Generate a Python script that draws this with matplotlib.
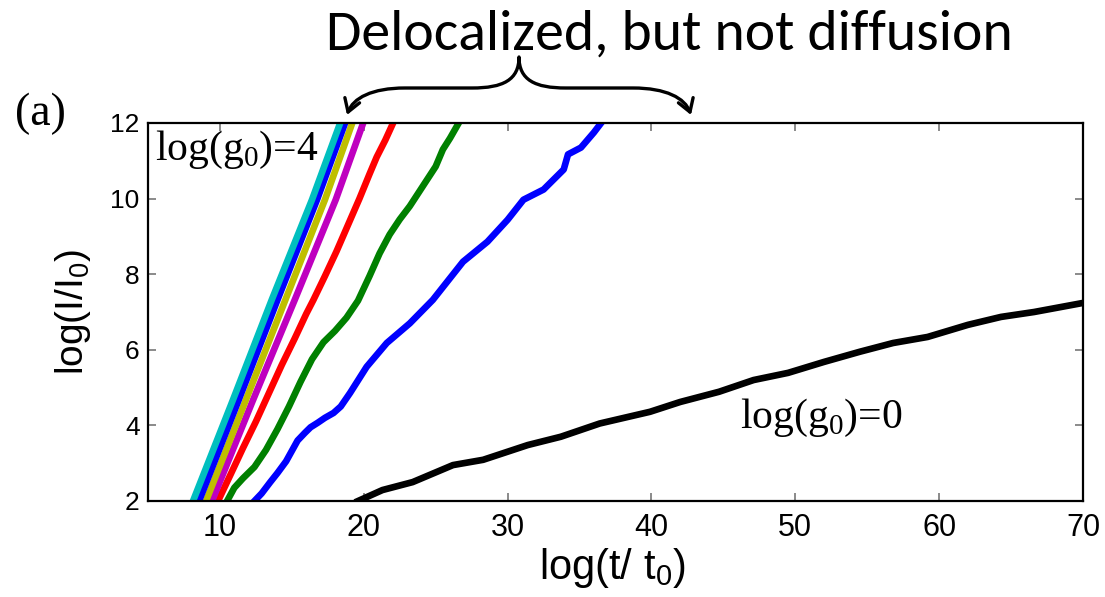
import matplotlib
matplotlib.use("Agg")
import matplotlib.pyplot as plt
from matplotlib.path import Path
from matplotlib.patches import FancyArrowPatch
from matplotlib.transforms import Affine2D

# ---- data: log(t/t0) vs log(I/I0) for different log(g0) ----
t_cyan = [8.13, 10.9, 13.6, 16.4, 18.36]
I_cyan = [2.0, 4.67, 7.32, 9.97, 12.0]

t_blue = [8.55, 11.3, 14.0, 16.75, 18.7]
I_blue = [2.0, 4.67, 7.32, 9.97, 12.0]

t_yellow = [9.03, 11.8, 14.55, 17.3, 19.2]
I_yellow = [2.0, 4.67, 7.32, 9.97, 12.0]

t_magenta = [9.45, 12.3, 15.2, 18.05, 19.96]
I_magenta = [2.0, 4.67, 7.32, 9.97, 12.0]

t_red = [9.87, 10.8, 11.6, 12.5, 13.4, 14.3, 15.2, 16.0, 16.5, 17.3,
         18.1, 18.9, 19.7, 20.4, 20.9, 21.5, 22.04]
I_red = [2.0, 2.75, 3.4, 4.1, 4.85, 5.6, 6.3, 6.95, 7.32, 7.95,
         8.6, 9.3, 10.0, 10.65, 11.1, 11.55, 12.0]

t_green = [10.5, 11.0, 11.6, 12.4, 13.2, 14.0, 14.8, 15.6, 16.4, 17.2,
           18.0, 18.8, 19.6, 20.4, 21.1, 21.8, 22.5, 23.2, 23.8, 24.4,
           25.0, 25.5, 26.0, 26.6]
I_green = [2.0, 2.35, 2.6, 2.9, 3.35, 3.9, 4.5, 5.15, 5.75, 6.2,
           6.5, 6.85, 7.3, 7.95, 8.55, 9.05, 9.45, 9.8, 10.15, 10.5,
           10.85, 11.3, 11.6, 12.0]

t_blue2 = [12.4, 12.9, 13.5, 14.0, 14.6, 15.4, 15.9, 16.3, 16.8, 17.3,
           17.9, 18.4, 19.05, 20.2, 21.6, 23.2, 24.8, 26.9, 28.6, 30.0,
           31.1, 32.5, 33.9, 34.2, 35.1, 36.0, 36.5]
I_blue2 = [2.0, 2.2, 2.5, 2.74, 3.05, 3.6, 3.8, 3.95, 4.07, 4.2,
           4.33, 4.5, 4.86, 5.55, 6.18, 6.7, 7.32, 8.33, 8.86, 9.44,
           9.97, 10.24, 10.77, 11.17, 11.35, 11.75, 12.0]

t_black = [19.6, 21.3, 23.4, 26.2, 28.3, 31.4, 33.7, 36.4, 39.9, 42.0,
           44.7, 47.1, 49.5, 52.0, 54.5, 56.8, 59.2, 62.0, 64.3, 66.6, 70.0]
I_black = [2.0, 2.29, 2.5, 2.95, 3.09, 3.48, 3.7, 4.05, 4.36, 4.62,
           4.89, 5.2, 5.39, 5.68, 5.95, 6.18, 6.34, 6.66, 6.87, 7.0, 7.24]

x_ticks = [10, 20, 30, 40, 50, 60, 70]
y_ticks = [2, 4, 6, 8, 10, 12]

plt.rcParams["mathtext.fontset"] = "custom"
plt.rcParams["mathtext.rm"] = "Liberation Serif"
plt.rcParams["mathtext.sf"] = "Liberation Sans"

W, H = 1105, 597
fig = plt.figure(figsize=(W / 100, H / 100), dpi=100)
ax = fig.add_axes([148 / W, 96 / H, 935 / W, 378 / H])

series = [
    (t_black, I_black, "#000000"),
    (t_blue2, I_blue2, "#0000ff"),
    (t_green, I_green, "#008000"),
    (t_red, I_red, "#ff0000"),
    (t_magenta, I_magenta, "#bf00bf"),
    (t_yellow, I_yellow, "#bfbf00"),
    (t_blue, I_blue, "#0000ff"),
    (t_cyan, I_cyan, "#00bfbf"),
]
for t, I, c in series:
    ax.plot(t, I, color=c, lw=4.8, solid_joinstyle="round")

ax.set_xlim(5, 70)
ax.set_ylim(2, 12)
ax.set_xticks(x_ticks)
ax.set_yticks(y_ticks)
ax.tick_params(direction="in", top=True, right=True, length=6, width=1.2,
               color="#777777")
ax.tick_params(axis="y", pad=6, labelsize=19)
ax.tick_params(axis="x", pad=9, labelsize=22)
sans = ["Liberation Sans", "DejaVu Sans"]
for lab in ax.get_yticklabels() + ax.get_xticklabels():
    lab.set_family(sans)
for sp in ax.spines.values():
    sp.set_linewidth(1.6)

ax.set_xlabel("log(t/ t$_\\mathsf{0}$)", fontsize=30, family=sans)
ax.xaxis.set_label_coords(0.4968, -0.12)
ax.set_ylabel("log(I/I$_\\mathsf{0}$)", fontsize=28, family=sans)
ax.yaxis.set_label_coords(-0.059, 0.5)

serif = ["Liberation Serif", "DejaVu Serif"]
ax.text(5.49, 11.03, "log(g$_\\mathrm{0}$)=4", fontsize=30, family=serif,
        ha="left", va="baseline")
ax.text(46.18, 3.93, "log(g$_\\mathrm{0}$)=0", fontsize=30, family=serif,
        ha="left", va="baseline")

# pixel (from top-left) -> figure transform
px = Affine2D().scale(1 / W, -1 / H).translate(0, 1) + fig.transFigure

fig.text(15 / W, 1 - 125 / H, "(a)", fontsize=33, family=serif,
         ha="left", va="baseline")
fig.text(669 / W, 1 - 50 / H, "Delocalized, but not diffusion", fontsize=41.5,
         family=["Carlito", "Open Sans", "DejaVu Sans"],
         ha="center", va="baseline")

# curly brace with arrow tips at both ends
verts = [
    (347, 115),
    (353, 98), (372, 88), (405, 88),
    (472, 88),
    (503, 88), (519, 80), (519, 57),
    (519, 80), (535, 88), (566, 88),
    (633, 88),
    (666, 88), (685, 98), (691, 115),
]
codes = [Path.MOVETO,
         Path.CURVE4, Path.CURVE4, Path.CURVE4,
         Path.LINETO,
         Path.CURVE4, Path.CURVE4, Path.CURVE4,
         Path.CURVE4, Path.CURVE4, Path.CURVE4,
         Path.LINETO,
         Path.CURVE4, Path.CURVE4, Path.CURVE4]
brace = FancyArrowPatch(path=Path(verts, codes), transform=px,
                        arrowstyle="<->,head_length=0.45,head_width=0.28",
                        mutation_scale=20, lw=2.4, color="black")
fig.patches.append(brace)

fig.savefig("out.png", dpi=100)
